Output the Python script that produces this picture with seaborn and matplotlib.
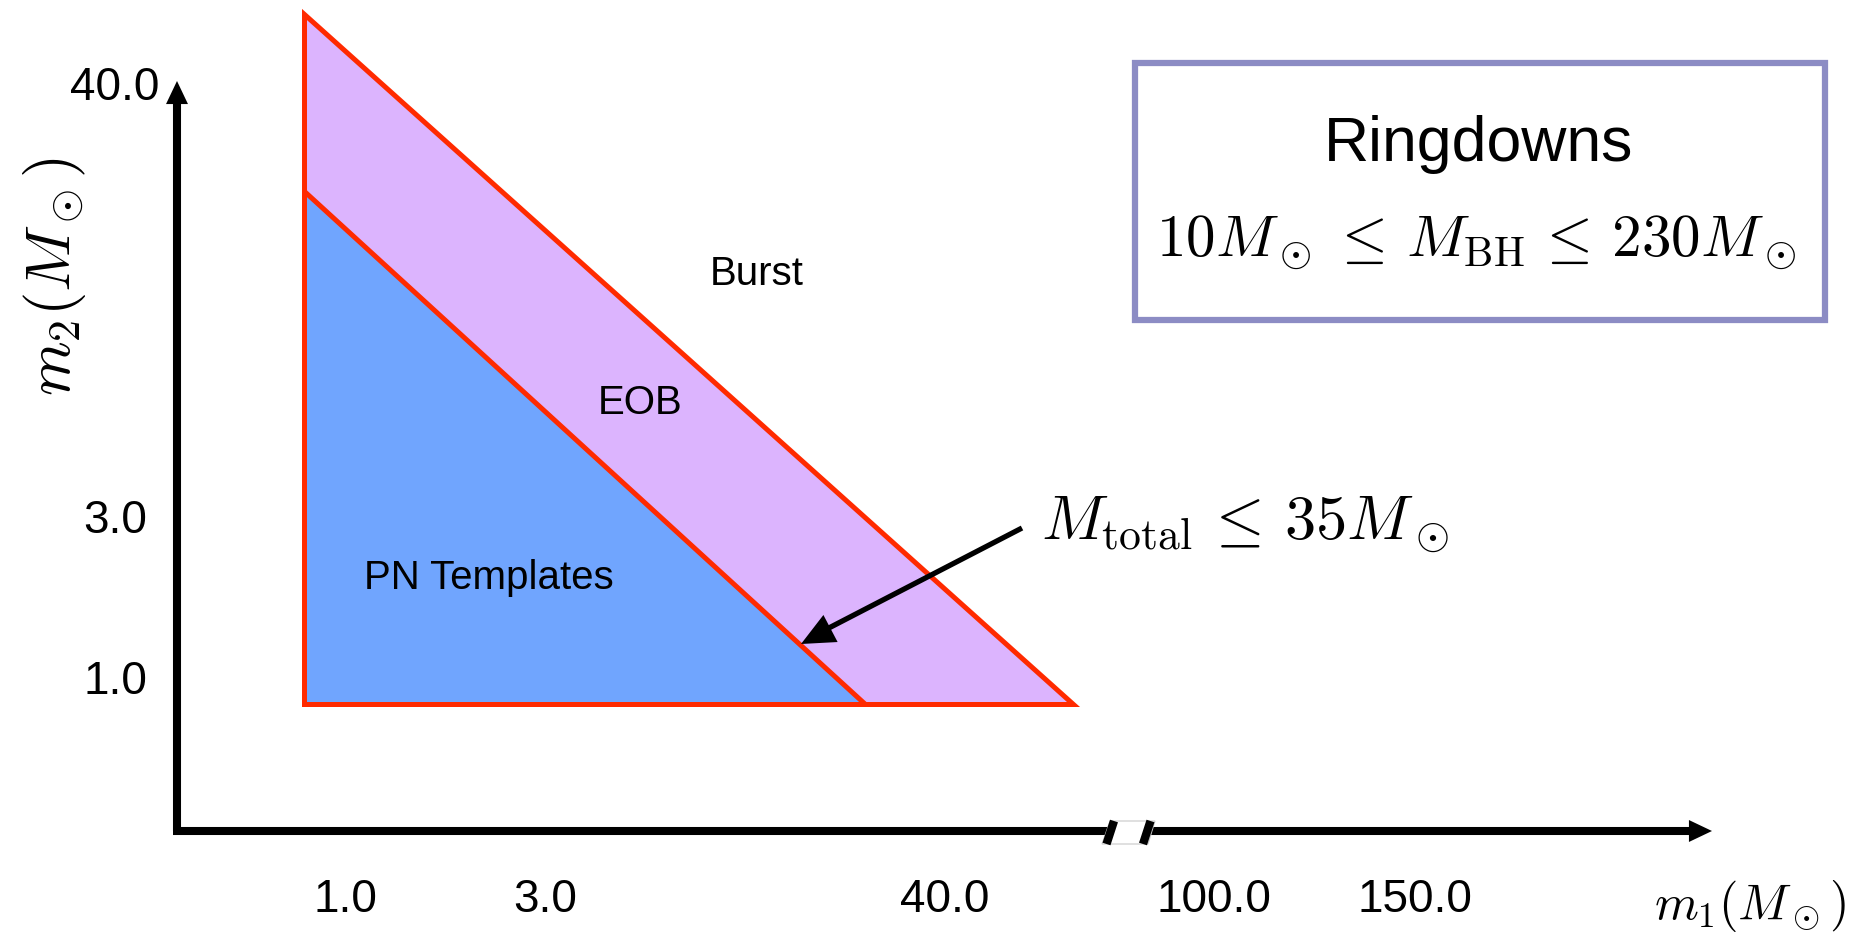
import matplotlib
matplotlib.use("Agg")
import matplotlib.pyplot as plt
import seaborn as sns

# schematic canvas: x to the right, y downward (pixel-like units)
# template regions (m1, m2 corners on the schematic)
eob_m1 = [304, 304, 1073]
eob_m2 = [14, 704, 704]
pn_m1 = [304, 304, 865]
pn_m2 = [191, 704, 704]

# tick labels of the schematic axes
x_tick_pos = [345, 545, 945, 1214, 1415]
x_tick_labels = ["1.0", "3.0", "40.0", "100.0", "150.0"]
y_tick_pos = [88, 521, 682]
y_tick_labels = ["40.0", "3.0", "1.0"]

region_names = ["Burst", "EOB", "PN Templates"]

sns.set_theme(style="white")
plt.rcParams["font.family"] = ["Liberation Sans", "DejaVu Sans"]
plt.rcParams["mathtext.fontset"] = "cm"
plt.rcParams["text.color"] = "black"

fig = plt.figure(figsize=(18.7, 9.36), dpi=100)
ax = fig.add_axes([0, 0, 1, 1])
ax.set_xlim(0, 1870)
ax.set_ylim(936, 0)
ax.axis("off")

red = "#ff2a00"

# regions
ax.fill(eob_m1, eob_m2, facecolor="#dcb4fe", edgecolor=red, lw=3.6,
        joinstyle="miter", zorder=2)
ax.fill(pn_m1, pn_m2, facecolor="#70a5fe", edgecolor=red, lw=3.6,
        joinstyle="miter", zorder=3)

# axes with arrow heads
ax.plot([177, 177], [831, 100], color="black", lw=5.8, solid_capstyle="butt", zorder=4)
ax.plot([173, 1695], [831, 831], color="black", lw=5.8, solid_capstyle="butt", zorder=4)
head = dict(arrowstyle="-|>,head_length=16.6,head_width=7.9", color="black",
            lw=0, mutation_scale=1, shrinkA=0, shrinkB=0)
ax.annotate("", xy=(177, 81), xytext=(177, 300), arrowprops=head, zorder=5)
ax.annotate("", xy=(1712, 831), xytext=(1500, 831), arrowprops=head, zorder=5)

# axis break
ax.fill([1102, 1110, 1155, 1148], [844, 821, 821, 844], facecolor="white",
        edgecolor="#c8c8c8", lw=0.8, zorder=6)
ax.plot([1106.5, 1114], [844, 821], color="black", lw=6, solid_capstyle="butt", zorder=7)
ax.plot([1143, 1150.5], [844, 821], color="black", lw=6, solid_capstyle="butt", zorder=7)

# tick labels
for x, lab in zip(x_tick_pos, x_tick_labels):
    ax.text(x, 900, lab, fontsize=33, ha="center", va="center")
for y, lab in zip(y_tick_pos, y_tick_labels):
    ax.text(115, y, lab, fontsize=33, ha="center", va="center")

# axis labels
ax.text(1750, 906, r"$m_1(M_\odot)$", fontsize=36, ha="center", va="center")
ax.text(55, 276, r"$m_2(M_\odot)$", fontsize=45, ha="center", va="center", rotation=90)

# region labels
ax.text(757, 274, region_names[0], fontsize=29, ha="center", va="center")
ax.text(640, 403, region_names[1], fontsize=29, ha="center", va="center")
ax.text(489, 578, region_names[2], fontsize=29, ha="center", va="center")

# total mass annotation
ax.text(1041, 525, r"$M_{\mathrm{total}} \,\leq\, 35M_\odot$", fontsize=45,
        ha="left", va="center")
ax.plot([1022, 825], [528, 630], color="black", lw=3.8, solid_capstyle="butt", zorder=8)
ax.annotate("", xy=(801, 644), xytext=(1022, 528),
            arrowprops=dict(arrowstyle="-|>,head_length=24,head_width=11",
                            color="black", lw=0, mutation_scale=1,
                            shrinkA=0, shrinkB=0), zorder=8)

# ringdown box
ax.fill([1135, 1825, 1825, 1135], [63, 63, 320, 320], facecolor="white",
        edgecolor="#8c8cc4", lw=4.5, joinstyle="miter", zorder=2)
ax.text(1479, 145, "Ringdowns", fontsize=45, ha="center", va="center")
ax.text(1476, 242, r"$10M_\odot \,\leq\, M_{\mathrm{BH}} \,\leq\, 230M_\odot$", fontsize=42.5,
        ha="center", va="center")

fig.savefig("out.png", dpi=100)
